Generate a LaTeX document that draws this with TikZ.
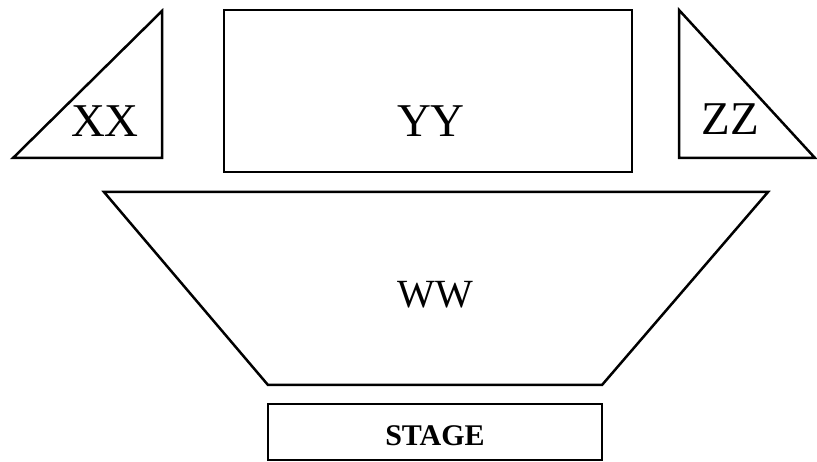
\documentclass[tikz,border=0pt]{standalone}
\usepackage{fontspec}
\setmainfont{Liberation Serif}
\begin{document}
\begin{tikzpicture}[x=1pt,y=-1pt,
  shapeline/.style={draw=black,line width=2.5pt,line join=miter},
  big/.style={font=\fontsize{47}{50}\selectfont,anchor=base,inner sep=0pt},
  mid/.style={font=\fontsize{40}{44}\selectfont,anchor=base,inner sep=0pt},
  small/.style={font=\fontsize{30}{34}\selectfont\bfseries,anchor=base,inner sep=0pt}]
\useasboundingbox (0,0) rectangle (817,462);
% XX triangle
\draw[shapeline] (13,158) -- (162,11) -- (162,158) -- cycle;
\node[big] (xx) at (105,137) {XX};
% YY rectangle
\draw[shapeline] (224,10) rectangle (632,172);
\node[big] (yy) at (431,137) {YY};
% ZZ triangle
\draw[shapeline] (679,10) -- (679,158) -- (815,158) -- cycle;
\node[big] (zz) at (730,135) {ZZ};
% WW trapezoid
\draw[shapeline] (104,192) -- (768,192) -- (602,385) -- (268,385) -- cycle;
\node[mid] (ww) at (435,308) {WW};
% Stage
\draw[shapeline] (268,404) rectangle (602,460);
\node[small] (stage) at (435,445) {STAGE};
\end{tikzpicture}
\end{document}
